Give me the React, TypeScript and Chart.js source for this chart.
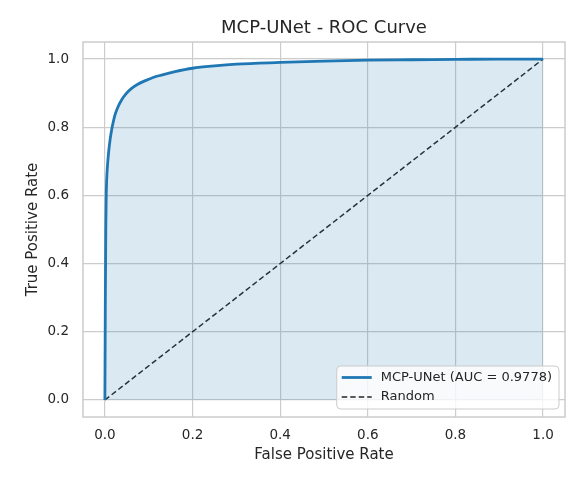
import React, { useEffect, useRef } from "react";
import { Chart, registerables } from "chart.js";

Chart.register(...registerables);

const chartTitle = "MCP-UNet - ROC Curve";
const xAxisTitle = "False Positive Rate";
const yAxisTitle = "True Positive Rate";
const rocLabel = "MCP-UNet (AUC = 0.9778)";
const randomLabel = "Random";

const fprValues = [0, 0.001, 0.002, 0.003, 0.004, 0.006, 0.009, 0.012, 0.015, 0.019, 0.023, 0.03, 0.038, 0.048, 0.061, 0.075, 0.091, 0.11, 0.129, 0.16, 0.2, 0.25, 0.3, 0.4, 0.5, 0.6, 0.7, 0.8, 0.9, 1.0];
const tprValues = [0, 0.3, 0.5, 0.6, 0.645, 0.69, 0.733, 0.765, 0.79, 0.815, 0.836, 0.86, 0.88, 0.898, 0.914, 0.926, 0.936, 0.946, 0.953, 0.963, 0.973, 0.98, 0.985, 0.99, 0.994, 0.997, 0.998, 0.999, 1.0, 1.0];
const randomX = [0, 1];
const randomY = [0, 1];
const xTicks = [0, 0.2, 0.4, 0.6, 0.8, 1.0];
const yTicks = [0, 0.2, 0.4, 0.6, 0.8, 1.0];

const FONT = "'DejaVu Sans', sans-serif";
const TEXT = "#262626";
const GRID = "#cccccc";
const BLUE = "rgb(31,119,180)";

const framePlugin = {
  id: "frame",
  afterDatasetsDraw(chart: any) {
    const { ctx, chartArea: a } = chart;
    ctx.save();
    ctx.strokeStyle = GRID;
    ctx.lineWidth = 1.5;
    ctx.strokeRect(a.left, a.top, a.right - a.left, a.bottom - a.top);
    ctx.restore();
  },
};

const legendPlugin = {
  id: "innerLegend",
  afterDraw(chart: any) {
    const { ctx, chartArea: a } = chart;
    const ds = chart.data.datasets;
    ctx.save();
    ctx.font = `13px ${FONT}`;
    const textW = Math.max(...ds.map((d: any) => ctx.measureText(d.label).width));
    const rowH = 19.5;
    const boxW = 5 + 30 + 9 + textW + 7;
    const boxH = 11.5 + rowH * (ds.length - 1) + 12;
    const right = a.right - 6;
    const bottom = a.bottom - 8;
    const left = right - boxW;
    const top = bottom - boxH;
    ctx.beginPath();
    ctx.roundRect(left, top, boxW, boxH, 4);
    ctx.fillStyle = "rgba(255,255,255,0.8)";
    ctx.fill();
    ctx.strokeStyle = GRID;
    ctx.lineWidth = 1;
    ctx.stroke();
    ds.forEach((d: any, i: number) => {
      const y = top + 11.5 + i * rowH;
      ctx.beginPath();
      ctx.setLineDash(d.borderDash || []);
      ctx.strokeStyle = d.borderColor;
      ctx.lineWidth = d.borderWidth;
      ctx.moveTo(left + 5, y);
      ctx.lineTo(left + 35, y);
      ctx.stroke();
      ctx.setLineDash([]);
      ctx.fillStyle = TEXT;
      ctx.textBaseline = "middle";
      ctx.textAlign = "left";
      ctx.fillText(d.label, left + 44, y);
    });
    ctx.restore();
  },
};

export default function App() {
  const ref = useRef<HTMLCanvasElement | null>(null);
  useEffect(() => {
    if (!ref.current) return;
    const chart = new Chart(ref.current, {
      type: "line",
      data: {
        datasets: [
          {
            label: rocLabel,
            data: fprValues.map((x, i) => ({ x, y: tprValues[i] })),
            borderColor: BLUE,
            backgroundColor: "rgba(31,119,180,0.16)",
            borderWidth: 2.8,
            fill: "origin",
            pointRadius: 0,
            cubicInterpolationMode: "monotone",
          },
          {
            label: randomLabel,
            data: randomX.map((x, i) => ({ x, y: randomY[i] })),
            borderColor: "#262626",
            borderWidth: 1.5,
            borderDash: [5.5, 3],
            fill: false,
            pointRadius: 0,
          },
        ],
      },
      options: {
        animation: false,
        responsive: false,
        layout: { padding: { left: 0, right: 8, top: 0, bottom: 0 } },
        plugins: {
          legend: { display: false },
          tooltip: { enabled: false },
          title: {
            display: true,
            text: chartTitle,
            fullSize: false,
            color: TEXT,
            font: { family: FONT, size: 18, weight: "normal" },
            padding: { top: 18, bottom: 2.4 },
          },
        },
        scales: {
          x: {
            type: "linear",
            min: -0.05,
            max: 1.05,
            afterBuildTicks: (s: any) => {
              s.ticks = xTicks.map((v) => ({ value: v }));
            },
            afterFit: (s: any) => {
              s.height = 60;
            },
            grid: { color: GRID, lineWidth: 1.2, drawTicks: false },
            border: { display: false },
            ticks: {
              color: TEXT,
              padding: 10,
              font: { family: FONT, size: 13.5 },
              callback: (v: any) => Number(v).toFixed(1),
            },
            title: {
              display: true,
              text: xAxisTitle,
              color: TEXT,
              font: { family: FONT, size: 15 },
              padding: { top: 0, bottom: 12.5 },
            },
          },
          y: {
            type: "linear",
            min: -0.05,
            max: 1.05,
            afterBuildTicks: (s: any) => {
              s.ticks = yTicks.map((v) => ({ value: v }));
            },
            afterFit: (s: any) => {
              s.width = 83;
            },
            grid: { color: GRID, lineWidth: 1.2, drawTicks: false },
            border: { display: false },
            ticks: {
              color: TEXT,
              padding: 14,
              font: { family: FONT, size: 13.5 },
              callback: (v: any) => Number(v).toFixed(1),
            },
            title: {
              display: true,
              text: yAxisTitle,
              color: TEXT,
              font: { family: FONT, size: 15 },
              padding: { top: 24, bottom: 0 },
            },
          },
        },
      },
      plugins: [framePlugin, legendPlugin],
    } as any);
    return () => chart.destroy();
  }, []);
  return (
    <div style={{ position: "absolute", left: 0, top: 0, width: 573, height: 477, background: "#fff" }}>
      <canvas ref={ref} width={573} height={477} style={{ display: "block" }} />
    </div>
  );
}
